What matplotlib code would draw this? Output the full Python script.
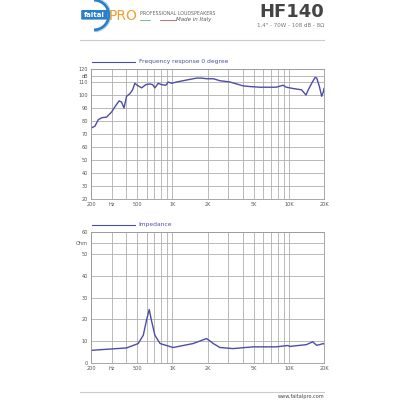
import matplotlib
matplotlib.use("Agg")
import matplotlib.pyplot as plt
from matplotlib.patches import Arc, FancyBboxPatch

# Frequency response 0 degree (Hz, dB)
fr_freq = [200, 216, 231, 247, 272, 301, 321, 349, 366, 384, 404, 431, 455,
           476, 499, 544, 592, 640, 675, 707, 755, 804, 879, 919, 984, 1086,
           1320, 1612, 1776, 1963, 2245, 2556, 3117, 4055, 4610, 5630, 7790,
           8890, 9500, 10850, 12830, 14000, 14670, 15680, 16760, 17330, 18260,
           19100, 19750, 20000]
fr_db = [74.5, 76, 81, 82.5, 83, 87, 91, 95.5, 94.5, 90, 99, 101, 104,
         109, 107.5, 105.5, 108, 108.5, 108, 105.5, 109, 108, 107.5, 110, 109,
         110, 111.5, 113, 113, 112.5, 112.5, 111, 110, 107, 106.5, 106, 106,
         107.5, 106, 105, 104, 100, 104, 109, 113.5, 113, 106.5,
         99, 102.5, 105]

# Impedance (Hz, Ohm)
z_freq = [200, 404, 508, 562, 599, 632, 660, 707, 784, 1013, 1502, 1963, 2245,
          2556, 3310, 4945, 7790, 9750, 10200, 14100, 16000, 17300, 18260,
          19750, 20000]
z_ohm = [5.8, 6.9, 8.9, 12.7, 19.6, 24.5, 19.6, 12.7, 8.9, 7.1, 8.9, 11.2, 8.9,
         7.1, 6.6, 7.4, 7.4, 8, 7.6, 8.4, 9.7, 8.1, 8.4, 8.9, 8.7]

grid_freqs = [200, 300, 400, 500, 600, 700, 800, 900, 1000, 2000, 3000, 4000,
              5000, 6000, 7000, 8000, 9000, 10000, 20000]
tick_freqs = [200, 300, 500, 1000, 2000, 5000, 10000, 20000]
tick_names = ['200', 'Hz', '500', '1K', '2K', '5K', '10K', '20K']

LINE = '#4d4da6'
GRID = '#b0b0b0'
TXT = '#555555'


def setup(ax, lo, hi, unit, title):
    ax.set_xscale('log')
    ax.set_xlim(200, 20000)
    ax.set_ylim(lo, hi)
    ax.minorticks_off()
    for f in grid_freqs:
        ax.axvline(f, color=GRID, lw=0.6, zorder=0)
    ax.set_xticks(tick_freqs)
    ax.set_xticklabels(tick_names)
    yt = list(range(lo, hi + 1, 10))
    # unit label sits half a step below the top line
    ax.set_yticks(yt + [hi - 5])
    ax.set_yticklabels([str(v) for v in yt] + [unit])
    ax.grid(axis='y', color=GRID, lw=0.6)
    ax.tick_params(length=0, labelsize=3.6, labelcolor=TXT, pad=2)
    for s in ax.spines.values():
        s.set_color('#999999')
        s.set_linewidth(0.6)
    ax.plot([0.005, 0.19], [1.054, 1.054], color=LINE, lw=0.8,
            transform=ax.transAxes, clip_on=False)
    ax.text(0.205, 1.054, title, color=LINE, fontsize=4.3, va='center',
            transform=ax.transAxes)


fig = plt.figure(figsize=(4, 4), dpi=100)
fig.patch.set_facecolor('white')

ax1 = fig.add_axes([0.2275, 0.5025, 0.5825, 0.325])
setup(ax1, 20, 120, 'dB', 'Frequency response 0 degree')
ax1.plot(fr_freq, fr_db, color=LINE, lw=1.0)

ax2 = fig.add_axes([0.2275, 0.0925, 0.5825, 0.3275])
setup(ax2, 0, 60, 'Ohm', 'Impedance')
ax2.plot(z_freq, z_ohm, color=LINE, lw=1.0)

# header
fig.text(0.81, 0.97, 'HF140', ha='right', va='center', fontsize=13,
         fontweight='bold', color='#444444')
fig.text(0.81, 0.937, '1.4" - 70W - 108 dB - 8\u03a9', ha='right', va='center',
         fontsize=4, color='#777777')
fig.text(0.35, 0.967, 'PROFESSIONAL LOUDSPEAKERS', ha='left', va='center',
         fontsize=3.4, color='#666666')
fig.text(0.44, 0.95, 'Made in Italy', ha='left', va='center', fontsize=4,
         style='italic', color='#555555')
fig.add_artist(plt.Line2D([0.35, 0.375], [0.95, 0.95], color='#3aa56a', lw=0.5))
fig.add_artist(plt.Line2D([0.40, 0.44], [0.95, 0.95], color='#cc3333', lw=0.5))

# logo
fig.add_artist(Arc((0.235, 0.9625), 0.075, 0.075, theta1=-90, theta2=90,
                   color='#2a7fc8', lw=2.2))
fig.add_artist(Arc((0.232, 0.9625), 0.09, 0.085, theta1=-80, theta2=80,
                   color='#9cc8ee', lw=0.8))
fig.add_artist(FancyBboxPatch((0.205, 0.953), 0.062, 0.02,
                              boxstyle='round,pad=0.002', fc='#2a7fc8', ec='none'))
fig.text(0.236, 0.963, 'faital', ha='center', va='center', fontsize=5,
         fontweight='bold', color='white')
fig.text(0.272, 0.961, 'PRO', ha='left', va='center', fontsize=10,
         color='#f0a030')

fig.add_artist(plt.Line2D([0.2, 0.81], [0.9, 0.9], color='#cccccc', lw=0.8))
fig.add_artist(plt.Line2D([0.2, 0.81], [0.02, 0.02], color='#cccccc', lw=0.8))
fig.text(0.81, 0.008, 'www.faitalpro.com', ha='right', va='center',
         fontsize=3.6, color='#444444')

fig.savefig('out.png', dpi=100)
